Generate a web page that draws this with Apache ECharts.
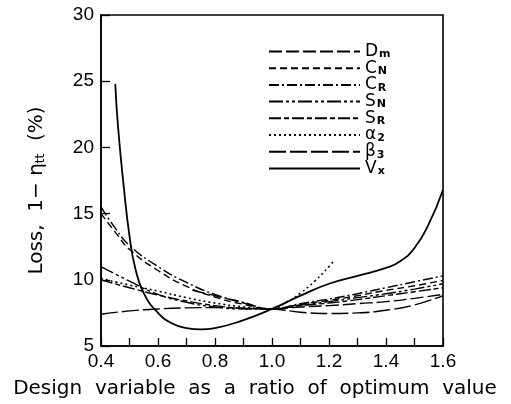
<!DOCTYPE html>
<html>
<head>
<meta charset="utf-8">
<script src="https://cdn.jsdelivr.net/npm/echarts@6/dist/echarts.min.js"></script>
<style>html,body{margin:0;padding:0;background:#fff}#c{width:511px;height:404px}</style>
</head>
<body>
<div id="c"></div>
<script>
// ---- data ----
const xTicks = [0.4, 0.6, 0.8, 1.0, 1.2, 1.4, 1.6];
const yTicks = [5, 10, 15, 20, 25, 30];

const xDm = [0.72, 0.8, 0.9, 1.0, 1.1, 1.2, 1.3, 1.4, 1.5, 1.6];
const yDm = [9.2, 8.8, 8.25, 7.8, 7.95, 8.05, 8.2, 8.35, 8.6, 8.9];

const xCN = [0.4, 0.45, 0.5, 0.6, 0.7, 0.8, 0.9, 1.0, 1.1, 1.2, 1.3, 1.4, 1.5, 1.6];
const yCN = [15.0, 13.6, 12.3, 10.7, 9.5, 8.7, 8.15, 7.8, 8.15, 8.45, 8.8, 9.2, 9.55, 9.95];

const xCR = [0.4, 0.45, 0.5, 0.6, 0.7, 0.8, 0.9, 1.0, 1.1, 1.2, 1.3, 1.4, 1.5, 1.6];
const yCR = [15.5, 13.9, 12.6, 11.0, 9.8, 8.9, 8.3, 7.8, 8.2, 8.55, 8.95, 9.4, 9.85, 10.3];

const xSN = [0.4, 0.5, 0.6, 0.7, 0.8, 0.9, 1.0, 1.1, 1.2, 1.3, 1.4, 1.5, 1.6];
const ySN = [11.0, 9.9, 8.9, 8.3, 7.95, 7.8, 7.8, 8.1, 8.35, 8.65, 8.95, 9.3, 9.7];

const xSR = [0.4, 0.5, 0.6, 0.7, 0.8, 0.9, 1.0, 1.1, 1.2, 1.3, 1.4, 1.5, 1.6];
const ySR = [10.0, 9.4, 8.85, 8.4, 8.05, 7.85, 7.8, 8.05, 8.25, 8.5, 8.8, 9.1, 9.4];

const xA2 = [0.4, 0.5, 0.6, 0.7, 0.8, 0.9, 1.0, 1.05, 1.1, 1.15, 1.2, 1.22];
const yA2 = [10.1, 9.6, 9.15, 8.65, 8.25, 7.95, 7.8, 8.3, 9.0, 9.9, 11.0, 11.5];

const xB3 = [0.4, 0.5, 0.6, 0.7, 0.8, 0.9, 1.0, 1.1, 1.2, 1.3, 1.4, 1.5, 1.6];
const yB3 = [7.4, 7.65, 7.8, 7.88, 7.9, 7.85, 7.8, 7.55, 7.45, 7.5, 7.7, 8.1, 8.8];

const xVx = [0.45, 0.46, 0.48, 0.5, 0.52, 0.55, 0.6, 0.65, 0.7, 0.75, 0.8, 0.9, 1.0, 1.1, 1.2, 1.3, 1.4, 1.45, 1.5, 1.55, 1.6];
const yVx = [24.8, 21.5, 17.0, 13.3, 10.9, 9.0, 7.5, 6.7, 6.35, 6.25, 6.35, 6.95, 7.8, 8.8, 9.7, 10.3, 10.9, 11.4, 12.4, 14.2, 16.8];

const names = ['Dm', 'CN', 'CR', 'SN', 'SR', 'a2', 'b3', 'Vx'];
const labels = {
  Dm: '{b|D}{s|m}', CN: '{b|C}{s|N}', CR: '{b|C}{s|R}', SN: '{b|S}{s|N}',
  SR: '{b|S}{s|R}', a2: '{b|α}{s|2}', b3: '{b|β}{s|3}', Vx: '{b|V}{s|x}'
};

const seriesDefs = [
  { name: 'Dm', x: xDm, y: yDm, dash: [13, 4], w: 1.4 },
  { name: 'CN', x: xCN, y: yCN, dash: [7, 4], w: 1.4 },
  { name: 'CR', x: xCR, y: yCR, dash: [10, 3, 2, 3], w: 1.4 },
  { name: 'SN', x: xSN, y: ySN, dash: [14, 3, 3, 3, 3, 3], w: 1.4 },
  { name: 'SR', x: xSR, y: ySR, dash: [12, 3, 5, 3], w: 1.4 },
  { name: 'a2', x: xA2, y: yA2, dash: [2, 3], w: 1.6 },
  { name: 'b3', x: xB3, y: yB3, dash: [17, 4], w: 1.4 },
  { name: 'Vx', x: xVx, y: yVx, dash: 'solid', w: 1.8 }
];

const FONT = 'DejaVu Sans';
const chart = echarts.init(document.getElementById('c'), null, { renderer: 'canvas' });
chart.setOption({
  animation: false,
  backgroundColor: '#fff',
  grid: { left: 101, right: 68, top: 15, bottom: 53, show: true, borderColor: '#000', borderWidth: 1.6, backgroundColor: 'transparent' },
  legend: {
    data: names,
    orient: 'vertical',
    left: 263,
    top: 38,
    itemWidth: 91,
    itemHeight: 14,
    itemGap: -0.3,
    itemStyle: { opacity: 0 },
    formatter: n => labels[n],
    textStyle: {
      color: '#000',
      fontFamily: FONT,
      fontSize: 17,
      lineHeight: 16,
      rich: {
        b: { fontSize: 17, fontFamily: FONT, color: '#000', lineHeight: 16 },
        s: { fontSize: 11, fontFamily: FONT, fontWeight: 'bold', color: '#000', lineHeight: 16, padding: [6, 0, 0, 1] }
      }
    }
  },
  xAxis: {
    type: 'value', min: 0.4, max: 1.6, interval: 0.2,
    name: 'Design  variable  as  a  ratio  of  optimum  value',
    nameLocation: 'middle', nameGap: 33,
    nameTextStyle: { fontFamily: FONT, fontSize: 20, color: '#000', padding: [0, 34, 0, 0] },
    axisLine: { lineStyle: { color: '#000', width: 1.6 } },
    axisTick: { inside: true, length: 8, lineStyle: { color: '#000', width: 1.3 } },
    minorTick: { show: true, splitNumber: 2, length: 8, lineStyle: { color: '#000', width: 1.3 } },
    axisLabel: { fontFamily: 'Liberation Sans', fontSize: 19, color: '#000', margin: 6, formatter: v => v.toFixed(1) },
    splitLine: { show: false }
  },
  yAxis: {
    type: 'value', min: 5, max: 30, interval: 5,
    name: '{a|Loss,  1− η}{s|tt}{a|  (%)}',
    nameLocation: 'middle', nameGap: 54, nameRotate: 90,
    nameTextStyle: {
      color: '#000', padding: [0, 20, 0, 0],
      rich: {
        a: { fontFamily: FONT, fontSize: 20, color: '#000' },
        s: { fontFamily: FONT, fontSize: 12, color: '#000', padding: [9, 0, 0, 0] }
      }
    },
    axisLine: { lineStyle: { color: '#000', width: 1.6 } },
    axisTick: { inside: true, length: 9, lineStyle: { color: '#000', width: 1.3 } },
    axisLabel: { fontFamily: 'Liberation Sans', fontSize: 19, color: '#000', margin: 7 },
    splitLine: { show: false }
  },
  series: seriesDefs.map(s => ({
    name: s.name,
    type: 'line',
    data: s.x.map((xv, i) => [xv, s.y[i]]),
    smooth: true,
    symbol: 'none',
    color: '#000',
    lineStyle: { color: '#000', width: s.w, type: s.dash }
  }))
});
</script>
</body>
</html>
